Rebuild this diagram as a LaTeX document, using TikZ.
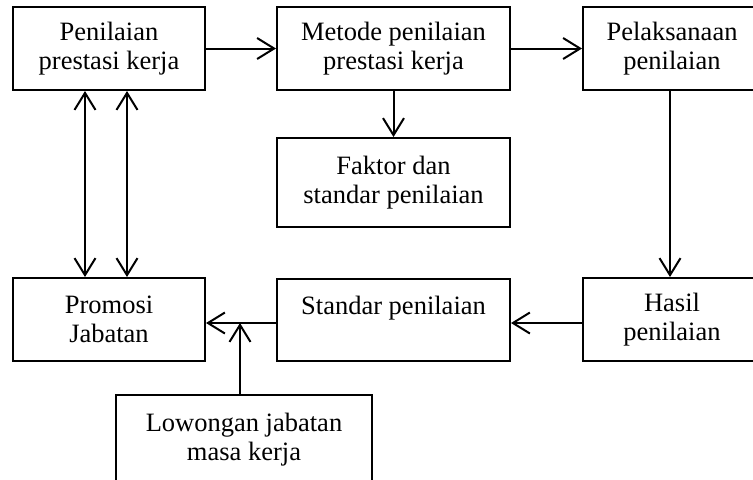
\documentclass[tikz,border=0pt]{standalone}
\usepackage{fontspec}
\setmainfont{Liberation Serif}
\usetikzlibrary{arrows.meta}
\tikzset{
  box/.style={draw, line width=1pt, align=center, inner sep=0pt,
    font=\fontsize{13.25}{14.5}\selectfont,
    execute at begin node=\rule{0pt}{12pt}},
  flow/.style={-{Straight Barb[length=8.5pt,width=10.5pt]}, line width=1pt},
  both/.style={{Straight Barb[length=8.5pt,width=10.5pt]}-{Straight Barb[length=8.5pt,width=10.5pt]}, line width=1pt},
}
\begin{document}
\begin{tikzpicture}[x=0.5pt,y=-0.5pt]
  \useasboundingbox (0,0) rectangle (753,479);
  \clip (0,0) rectangle (753,479);
  \node [box, minimum width=96pt, minimum height=41.5pt] (pk) at (109,48.5) {Penilaian\\prestasi kerja};
  \node [box, minimum width=116.5pt, minimum height=41.5pt] (mp) at (393.5,48.5) {Metode penilaian\\prestasi kerja};
  \node [box, minimum width=89pt, minimum height=41.5pt] (pl) at (672,48.5) {Pelaksanaan\\penilaian};
  \node [box, minimum width=116.5pt, minimum height=44.5pt] (fs) at (393.5,182.5) {Faktor dan\\standar penilaian};
  \node [box, minimum width=96pt, minimum height=41.5pt] (pj) at (109,319.5) {Promosi\\Jabatan};
  \node [box, minimum width=116.5pt, minimum height=41pt] (sp) at (393.5,319.5) {Standar penilaian\\ \mbox{}};
  \node [box, minimum width=89pt, minimum height=41.5pt] (hp) at (672,319.5) {Hasil\\penilaian};
  \node [box, minimum width=128pt, minimum height=45pt] (lj) at (244,440) {Lowongan jabatan\\masa kerja};
  \coordinate (j) at (240,323);

  \draw [flow] (pk.east) -- (mp.west);
  \draw [flow] (mp.east) -- (pl.west);
  \draw [flow] (mp.south) -- (fs.north);
  \draw [flow] ([xshift=-1pt]pl.south) -- ([xshift=-1pt]hp.north);
  \draw [flow] (hp.west |- j) -- (sp.east |- j);
  \draw [flow] (sp.west |- j) -- (pj.east |- j);
  \draw [flow] (j |- lj.north) -- (j);
  \draw [both] ([xshift=-12pt]pk.south) -- ([xshift=-12pt]pj.north);
  \draw [both] ([xshift=9pt]pk.south) -- ([xshift=9pt]pj.north);
\end{tikzpicture}
\end{document}
